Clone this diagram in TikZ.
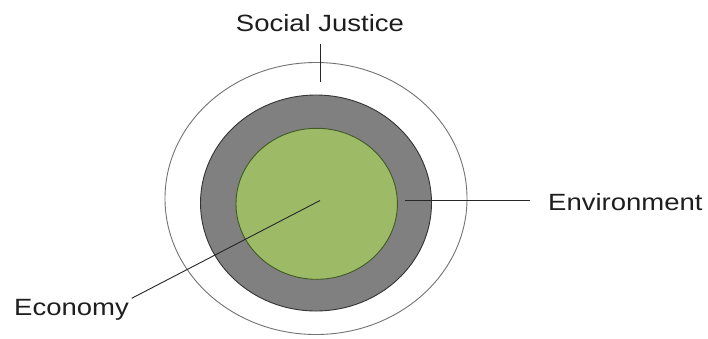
\documentclass[tikz,border=0pt]{standalone}
\usepackage{fontspec}
\setmainfont{Liberation Sans}
\definecolor{leaf}{HTML}{9DBB67}
\definecolor{leafline}{HTML}{3F5A25}
\definecolor{ringgray}{HTML}{808080}
\definecolor{txt}{HTML}{1E1E1E}
\tikzset{
  lbl/.style={font=\fontsize{23.5}{26}\selectfont, text=txt, inner sep=0pt},
  leader/.style={draw=black!85, line width=0.9pt}
}
\newcommand{\wide}[1]{\scalebox{1.17}[1]{#1}}
\begin{document}
\begin{tikzpicture}[x=1pt,y=-1pt]
\useasboundingbox (0,0) rectangle (708,338);
\fill[white] (0,0) rectangle (708,338);
% outer ring
\draw[draw=black!55, line width=0.9pt] (316,198.5) ellipse [x radius=151, y radius=136];
% gray ring
\draw[fill=ringgray, draw=black!80, line width=0.9pt] (316,203) ellipse [x radius=115.5, y radius=108];
% green core
\draw[fill=leaf, draw=leafline, line width=0.9pt] (316.7,203.8) ellipse [x radius=80.7, y radius=75.5];
\coordinate (center) at (320,200.5);
\coordinate (sjend) at (320,82);
\coordinate (envstart) at (405,200.5);
% labels
\node[lbl, anchor=base] (sj) at (320,31.7) {\wide{Social Justice}};
\node[lbl, anchor=base west] (eco) at (14,315) {\wide{Economy}};
\node[lbl, anchor=base west] (env) at (548,210) {\wide{Environment}};
% leaders
\draw[leader] (320,44) -- (sjend);
\draw[leader] (envstart) -- (530,200.5);
\draw[leader] (center) -- (131.7,298.3);
\end{tikzpicture}
\end{document}
